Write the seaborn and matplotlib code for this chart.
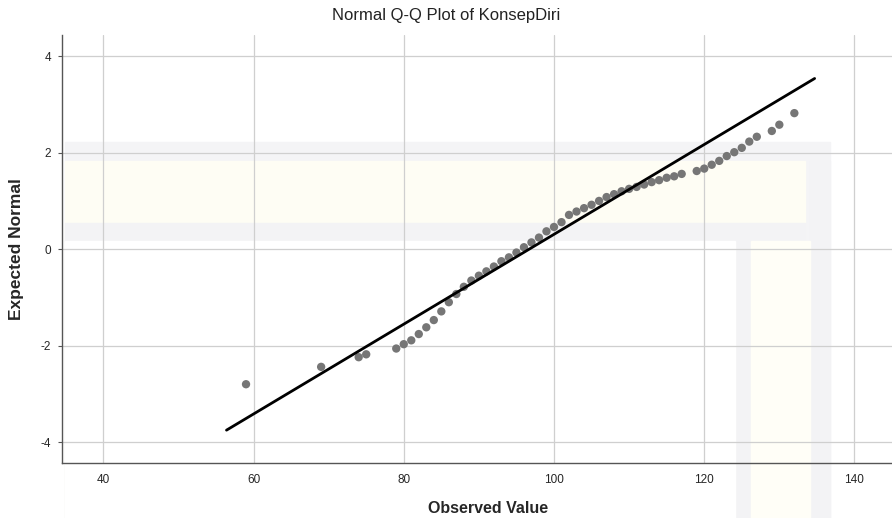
import numpy as np
import pandas as pd
import matplotlib.pyplot as plt
import seaborn as sns
from matplotlib.patches import Rectangle

# observed values and SPSS expected normal scores
observed = [59, 69, 74, 75, 79, 80, 81, 82, 83, 84, 85, 86, 87, 88, 89, 90, 91, 92, 93, 94,
            95, 96, 97, 98, 99, 100, 101, 102, 103, 104, 105, 106, 107, 108, 109, 110, 111,
            112, 113, 114, 115, 116, 117, 119, 120, 121, 122, 123, 124, 125, 126, 127, 129,
            130, 132]
expected = [-2.80, -2.44, -2.24, -2.18, -2.06, -1.97, -1.89, -1.76, -1.62, -1.47, -1.29,
            -1.10, -0.93, -0.78, -0.65, -0.55, -0.46, -0.36, -0.25, -0.17, -0.07, 0.04,
            0.14, 0.24, 0.37, 0.46, 0.56, 0.71, 0.78, 0.85, 0.92, 1.00, 1.08, 1.14, 1.20,
            1.25, 1.29, 1.34, 1.39, 1.43, 1.48, 1.51, 1.56, 1.62, 1.67, 1.75, 1.83, 1.93,
            2.01, 2.10, 2.23, 2.33, 2.45, 2.58, 2.82]
line_mean = 96.7
line_sd = 10.74
line_range = [56.4, 134.7]
x_ticks = [40, 60, 80, 100, 120, 140]
y_ticks = [-4, -2, 0, 2, 4]

df = pd.DataFrame({'Observed Value': observed, 'Expected Normal': expected})
line_x = np.array(line_range)
line_df = pd.DataFrame({'x': line_x, 'y': (line_x - line_mean) / line_sd})

sns.set_style('white')
plt.rcParams['font.family'] = ['Liberation Sans', 'DejaVu Sans']
plt.rcParams['axes.unicode_minus'] = False

fig = plt.figure(figsize=(8.92, 5.18), dpi=100)

# faint watermark behind the chart
wm = [((0.073, 0.0), 0.858, 0.725, '#f4f4f6'), ((0.073, 0.0), 0.83, 0.69, '#fefdf4'),
      ((0.073, 0.535), 0.83, 0.035, '#f3f3f5'), ((0.824, 0.0), 0.018, 0.535, '#f3f3f5'),
      ((0.908, 0.0), 0.022, 0.69, '#f3f3f5'), ((0.842, 0.0), 0.066, 0.535, '#fffef7'),
      ((0.073, 0.0), 0.751, 0.535, '#ffffff')]
for (xy, w, h, c) in wm:
    fig.patches.append(Rectangle(xy, w, h, transform=fig.transFigure, color=c, zorder=-10))

ax = fig.add_axes([0.0695, 0.106, 0.9305, 0.826])
ax.patch.set_alpha(0)
ax.grid(True, color='#cfcfcf', linewidth=0.9)
ax.set_axisbelow(True)

sns.scatterplot(data=df, x='Observed Value', y='Expected Normal', ax=ax, color='#767676',
                s=36, edgecolor='none', zorder=3)
sns.lineplot(data=line_df, x='x', y='y', ax=ax, color='black', linewidth=2.0, zorder=4)

ax.set_xlim(34.5, 145)
ax.set_ylim(-4.435, 4.435)
ax.set_xticks(x_ticks)
ax.set_yticks(y_ticks)
ax.tick_params(labelsize=8.5, length=3, color='#555555', bottom=False, left=True, pad=5)
for s in ['top', 'right']:
    ax.spines[s].set_visible(False)
for s in ['left', 'bottom']:
    ax.spines[s].set_color('#555555')
    ax.spines[s].set_linewidth(1.0)

ax.set_xlabel('Observed Value', fontsize=11.5, fontweight='bold')
ax.xaxis.set_label_coords(0.513, -0.088)
ax.set_ylabel('Expected Normal', fontsize=12.5, fontweight='bold', labelpad=12)
fig.suptitle('Normal Q-Q Plot of KonsepDiri', x=0.5, y=0.985, fontsize=12, color='#222222')

plt.savefig('out.png', dpi=100)
